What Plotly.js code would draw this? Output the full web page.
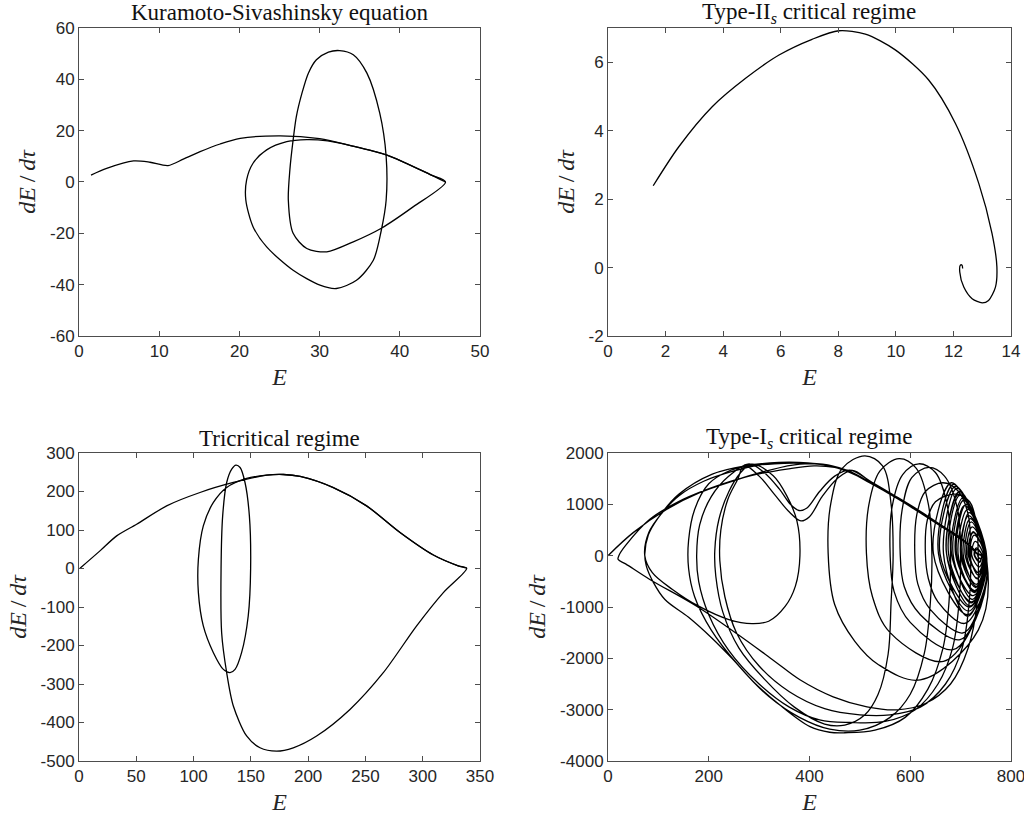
<!DOCTYPE html>
<html>
<head>
<meta charset="utf-8">
<script src="https://cdn.plot.ly/plotly-3.0.1.min.js"></script>
<style>html,body{margin:0;padding:0;background:#fff;}#chart{width:1024px;height:816px;}</style>
</head>
<body>
<div id="chart"></div>
<script>
// ---------- Panel 1: Kuramoto-Sivashinsky equation (E, dE/dtau) ----------
const ksPath = [
 [1.5,2.7],[3.45,5.3],[6.8,8.2],[8.85,7.7],[11.1,6.4],[13,8.9],[15.1,11.8],[17.6,14.8],[20.1,17],[25.1,18],[30,16.9],[34,14.1],[38.4,10.5],[43.8,2.9],[45.7,0],
 [null,null],
 [45.7,0],[41.7,-9.6],[37.7,-18],[34.2,-23.3],[30.9,-27.2],[28.4,-25.9],[26.7,-20],[26.1,-7],[26.3,5],[26.7,16.4],[27.1,25.5],[27.8,34.6],[28.6,42.4],[29.6,47.6],[31.1,50.6],[32.5,51.2],[34.2,49.6],[35.9,42.4],[37.5,26.8],[38.3,9.9],[38.3,-7],[37.7,-18.7],[36.7,-30.5],[34.6,-38.3],[32.1,-41.5],[30.05,-40.2],[26.7,-34.4],[23.4,-25.3],[21.7,-17.4],[20.8,-7],[20.9,0.8],[21.7,7.3],[23.4,12.5],[25.9,15.7],[28.4,16.5],[31,16],[34,14.1],[38.4,10.5],[43.8,2.9],[45.7,0]
];

// ---------- Panel 2: Type-II_s critical regime ----------
const t2Path = [
 [1.57,2.39],[2.46,3.53],[3.62,4.70],[4.78,5.53],[5.94,6.21],[7.09,6.67],[8.02,6.92],[8.94,6.82],[9.98,6.36],[11.14,5.48],[12.07,4.21],[12.88,2.46],[13.34,1.0],[13.51,0.02],[13.46,-0.57],[13.22,-0.96],[13.0,-1.03],[12.65,-0.91],[12.36,-0.57],[12.22,-0.13],[12.24,0.07],[12.30,0.07],[12.32,-0.03]
];

// ---------- Panel 3: Tricritical regime ----------
const triPath = [
 [0.9,0.7],[18.3,45.8],[32.9,84.7],[50.3,115],[76.5,162.7],[105.6,197.4],[134.7,223.4],[163.8,242.5],[178.4,244.2],[193,239],[222,210],[251,162.7],[280.2,93.5],[309.3,35],[331,7],[338.4,0.7],
 [null,null],
 [338.4,0.7],[318,-62.6],[294.7,-149],[265.6,-270.6],[236.5,-366],[207.4,-435],[187,-465.6],[172.5,-474.3],[158,-465.6],[146.3,-435],[134.7,-357],[128.9,-270.6],[124.5,-166.7],[124,0.7],[125.4,136.8],[128.9,223.4],[133.3,258],[137,268.5],[140.6,262.4],[144.9,223.4],[148.7,136.8],[149.8,0.7],[147.7,-123.3],[141.9,-218.6],[136.2,-262],[131.8,-270.6],[126,-262],[117.3,-218.6],[108.5,-149],[104.2,-62.6],[104.2,24],[108.5,110.8],[117.3,171.5],[128.9,210.5],[146.3,234],[163.8,242.5],[178.4,244.2],[193,239],[222,210],[251,162.7],[280.2,93.5],[309.3,35],[331,7],[338.4,0.7]
];

// ---------- Panel 4: Type-I_s critical regime ----------
const t1Path = [
 // from the origin along the upper arc, then into the focus
 [0,0],[50,449],[117,905],[183,1231],[249,1458],[315,1653],[381,1784],[440,1760],[471,1665],[520,1430],[571,1140],[620,840],[660,590],[700,340],[722,160],[732,40],
 // episode 1: spiral loops
 [741,0],[738,-110],[728,10],[732,120],
 [744,-10],[737,-220],[722,10],[729,280],
 [746,-20],[735,-330],[715,20],[725,470],
 [748,-30],[733,-440],[709,20],[721,660],
 [749,-40],[731,-560],[702,30],[717,840],
 [750,-40],[728,-680],[692,30],[711,1000],
 [751,-50],[725,-780],[682,30],[705,1130],
 [752,-60],[722,-900],[672,40],[698,1250],
 [752,-100],[735,-1450],[620,-2420],[537,-2124],[490,-1669],[450,-952],[437,50],
 [442,1000],[465,1700],[510,1945],[545,1750],[562,1000],[566,0],
 [562,-900],[556,-1925],[536,-2706],[510,-3100],[470,-3300],[430,-3280],[370,-2950],[310,-2400],[260,-1800],[228,-1100],[214,-400],[212,100],[220,700],[240,1250],[262,1600],[285,1784],
 [328,1556],[355,1165],[375,677],[381,0],[372,-593],[352,-984],[319,-1277],[286,-1322],[240,-1244],[180,-984],[128,-658],[88,-332],[73,0],[81,450],[108,840],[141,1170],[190,1450],[250,1650],[300,1765],[350,1805],[400,1800],[445,1750],[478,1650],
 [522,1420],[572,1130],[619,840],[658,590],[698,340],[721,160],[731,50],
 // episode 2
 [745,-10],[735,-330],[716,20],[725,450],
 [750,-40],[728,-700],[690,30],[708,980],
 [752,-60],[718,-1000],[659,40],[690,1350],
 [752,-100],[730,-1240],[666,-2060],[560,-1500],[525,-800],[513,50],
 [518,1000],[540,1650],[578,1890],[612,1700],[636,1000],[643,0],
 [640,-900],[628,-1900],[600,-2700],[560,-3150],[500,-3400],[440,-3380],[380,-3150],[320,-2750],[260,-2150],[205,-1450],[172,-800],[160,-250],[160,300],[172,900],[200,1400],[240,1650],[275,1740],[330,1790],[380,1800],[430,1770],[471,1670],
 [521,1410],[573,1120],[621,830],[661,580],[701,330],[723,150],[732,40],
 // episode 3
 [749,-30],[731,-600],[705,30],[719,720],
 [752,-60],[721,-920],[676,40],[699,1180],
 [752,-70],[714,-1150],[646,40],[682,1420],
 [752,-100],[735,-1100],[685,-1831],[600,-1300],[568,-700],[560,50],
 [564,950],[585,1580],[617,1790],[650,1620],[674,950],[680,0],
 [677,-900],[665,-1800],[635,-2600],[590,-3150],[530,-3400],[470,-3450],[440,-3440],[401,-3330],[340,-2900],[288,-2450],[246,-2000],[206,-1603],[160,-1200],[113,-854],[90,-520],[76,-200],[73,30],[80,400],[100,740],[141,1200],[207,1590],[273,1753],[339,1818],[379,1818],[438,1753],[471,1655],
 [518,1440],[569,1150],[617,850],[657,600],[697,350],[720,170],[730,60],
 // episode 4
 [750,-40],[727,-720],[695,30],[714,900],
 [752,-70],[716,-1080],[656,40],[686,1390],
 [752,-100],[738,-980],[699,-1636],[620,-1150],[588,-600],[580,50],
 [584,900],[603,1520],[637,1720],[668,1550],[694,900],[700,0],
 [697,-900],[684,-1800],[655,-2500],[610,-3000],[550,-3230],[480,-3250],[420,-3200],[360,-2950],[300,-2500],[240,-1850],[200,-1150],[180,-500],[176,0],[182,600],[205,1150],[240,1550],[280,1790],
 [310,1620],[340,1300],[362,1000],[379,880],[395,930],[420,1250],[450,1550],[480,1665],
 [524,1430],[574,1140],[623,845],[663,585],[702,335],[724,150],[733,40],
 // episode 5
 [748,-30],[733,-450],[712,20],[723,560],
 [751,-50],[723,-850],[685,30],[706,1080],
 [752,-70],[714,-1180],[666,40],[693,1310],
 [752,-100],[740,-900],[705,-1505],[640,-1050],[615,-550],[609,50],
 [613,800],[630,1250],[665,1420],[695,1260],[715,800],[720,0],
 [717,-900],[703,-1800],[670,-2500],[620,-2950],[560,-3100],[500,-3100],[430,-2980],[360,-2650],[300,-2150],[255,-1500],[232,-800],[222,-100],[224,500],[238,1100],[258,1500],[270,1760],
 [300,1550],[330,1200],[360,850],[383,677],[400,760],[425,1150],[455,1500],[485,1660],
 [520,1450],[570,1160],[618,855],[659,595],[699,345],[722,160],[731,50],
 // episode 6
 [747,-20],[735,-380],[718,20],[727,400],
 [750,-40],[730,-620],[700,30],[716,780],
 [752,-60],[719,-980],[672,40],[697,1200],
 [752,-100],[742,-800],[708,-1320],[655,-900],[636,-450],[630,50],
 [634,700],[650,1050],[690,1200],[718,1050],[731,650],[735,0],
 [733,-900],[715,-1800],[680,-2500],[630,-2880],[573,-3003],[514,-2944],[447,-2749],[381,-2417],[330,-2050],[260,-1550],[176,-985],[83,-463],[35,-160],[20,-72],[22,10],[35,200],[83,709],[150,1100],[216,1360],[282,1556],[355,1686],[409,1750],[450,1720],[480,1630],
 [525,1400],[575,1110],[622,820],[662,570],[700,320],[724,140],[733,30],
 [741,0],[738,-130],[727,10],[731,150],[743,0],[739,-60],[733,10]
];

// ---------- tick labels ----------
const ksXTicks = [0,10,20,30,40,50];
const ksYTicks = [-60,-40,-20,0,20,40,60];
const t2XTicks = [0,2,4,6,8,10,12,14];
const t2YTicks = [-2,0,2,4,6];
const triXTicks = [0,50,100,150,200,250,300,350];
const triYTicks = [-500,-400,-300,-200,-100,0,100,200,300];
const t1XTicks = [0,200,400,600,800];
const t1YTicks = [-4000,-3000,-2000,-1000,0,1000,2000];
const panelTitles = [
  'Kuramoto-Sivashinsky equation',
  'Type-II<sub><i>s</i></sub> critical regime',
  'Tricritical regime',
  'Type-I<sub><i>s</i></sub> critical regime'
];
const xLabel = '<i>E</i>';
const yLabel = '<i>dE</i>\u2009/\u2009<i>dτ</i>';

function col(path, i){ return path.map(p => p[i]); }
function trace(path, xa, ya, sm){
  return {x: col(path,0), y: col(path,1), xaxis: xa, yaxis: ya,
    type:'scatter', mode:'lines', line:{color:'#000', width:1.3, shape:'spline', smoothing:sm},
    hoverinfo:'skip', showlegend:false};
}
const data = [trace(ksPath,'x','y',0.8), trace(t2Path,'x2','y2',0.8), trace(triPath,'x3','y3',0.8), trace(t1Path,'x4','y4',1)];

const dX1=[0.07715,0.46875], dX2=[0.59375,0.98730];
const dYtop=[0.58824,0.96569], dYbot=[0.06740,0.44485];

function ax(domain, range, ticks, anchor, label, standoff){
  return {domain, range, anchor, tickmode:'array', tickvals:ticks, ticktext:ticks.map(v=>String(v)),
    showline:true, linecolor:'#4d4d4d', linewidth:1, mirror:'ticks', ticks:'inside', ticklen:5,
    tickwidth:1, tickcolor:'#4d4d4d', showgrid:false, zeroline:false, fixedrange:true,
    ticklabeloverflow:'allow',
    tickfont:{family:'Liberation Sans, Arial, sans-serif', size:17, color:'#262626'},
    title:{text:label, standoff, font:{family:'Liberation Serif, Times New Roman, serif', size:24, color:'#262626'}}};
}

const titleY = [1 - 13/816, 1 - 438/816];
const layout = {
  width:1024, height:816, margin:{l:0,r:0,t:0,b:0}, paper_bgcolor:'#fff', plot_bgcolor:'#fff',
  xaxis: ax(dX1,[0,50],ksXTicks,'y',xLabel,7),
  yaxis: ax(dYtop,[-60,60],ksYTicks,'x',yLabel,7),
  xaxis2: ax(dX2,[0,14],t2XTicks,'y2',xLabel,7),
  yaxis2: ax(dYtop,[-2,7],t2YTicks,'x2',yLabel,7),
  xaxis3: ax(dX1,[0,350],triXTicks,'y3',xLabel,7),
  yaxis3: ax(dYbot,[-500,300],triYTicks,'x3',yLabel,7),
  xaxis4: ax(dX2,[0,800],t1XTicks,'y4',xLabel,7),
  yaxis4: ax(dYbot,[-4000,2000],t1YTicks,'x4',yLabel,7),
  annotations: [
    {text:panelTitles[0], x:(dX1[0]+dX1[1])/2, y:titleY[0]},
    {text:panelTitles[1], x:(dX2[0]+dX2[1])/2, y:titleY[0]},
    {text:panelTitles[2], x:(dX1[0]+dX1[1])/2, y:titleY[1]},
    {text:panelTitles[3], x:(dX2[0]+dX2[1])/2, y:titleY[1]}
  ].map(a => Object.assign(a, {xref:'paper', yref:'paper', xanchor:'center', yanchor:'middle', showarrow:false,
     font:{family:'Liberation Serif, Times New Roman, serif', size:23, color:'#111'}}))
};

Plotly.newPlot('chart', data, layout, {displayModeBar:false, staticPlot:true});
</script>
</body>
</html>
